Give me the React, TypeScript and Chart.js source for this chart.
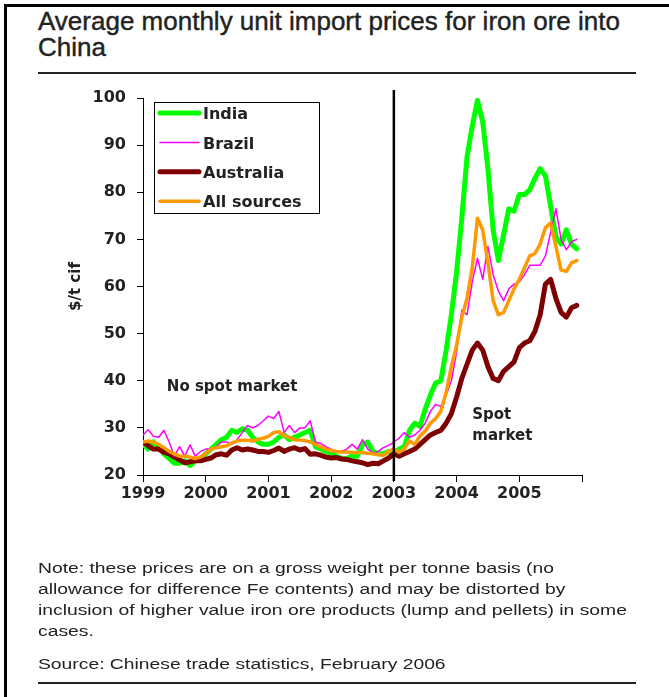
import React, { useEffect, useRef } from 'react';
import { Chart, registerables } from 'chart.js';

Chart.register(...registerables);

// ---------- text ----------
const titleLines = ['Average monthly unit import prices for iron ore into', 'China'];
const noteLines = [
  'Note: these prices are on a gross weight per tonne basis (no',
  'allowance for difference Fe contents) and may be distorted by',
  'inclusion of higher value iron ore products (lump and pellets) in some',
  'cases.',
];
const sourceText = 'Source: Chinese trade statistics, February 2006';
const yAxisTitle = '$/t cif';
const leftRegionLabel = 'No spot market';
const rightRegionLabel = ['Spot', 'market'];

// ---------- axes ----------
const startYear = 1999;
const endYear = 2006;
const yearLabels = [1999, 2000, 2001, 2002, 2003, 2004, 2005];
const yMin = 20;
const yMax = 100;
const yStep = 10;
const dividerYear = 2003;

// ---------- series (monthly, Jan 1999 - Dec 2005) ----------
const seriesNames = ['India', 'Brazil', 'Australia', 'All sources'];
const seriesColors = ['#00ff00', '#ff00ff', '#7f0000', '#ff9900'];

const india = [
  26.5, 25.5, 27, 26, 24.5, 23.5, 22.5, 22.5, 23, 22, 23, 23.5,
  24.5, 25.5, 26.5, 27.5, 28, 29.5, 29, 29.8, 29.5, 28, 27, 26.5,
  26.5, 27, 28, 28.5, 27.5, 28, 28.5, 29, 29.5, 26, 25.5, 25,
  24.5, 24, 23.5, 23.5, 24, 24, 26.5, 27, 25, 24.5, 24.5, 25,
  24.5, 25.5, 26, 29.5, 31, 30.3, 34, 37, 39.5, 40, 46.5, 54,
  63, 74.5, 87.5, 94, 99.5, 95, 85, 72, 65.5, 71, 76.5, 76,
  79.5, 79.5, 80.5, 83, 85, 83.5, 77, 70.5, 69, 72, 69, 68,
];

const brazil = [
  28.5, 29.6, 28.2, 28, 29.5, 27, 24, 26, 24, 26.4, 24, 25,
  25.5, 25.5, 26, 27, 27, 26.5, 27.5, 29, 30.5, 30, 30.5, 31.5,
  32.5, 32, 33.5, 29, 30.5, 29, 30, 30, 31.5, 27, 26.7, 26,
  25.5, 25, 25, 25.5, 26.5, 25.5, 27.5, 25.5, 24.7, 25, 25.8, 26.3,
  27, 27.8, 29, 28, 28.5, 29.5, 31, 33.5, 35, 34.5, 37, 40,
  46, 55, 54, 61, 66, 61.5, 68.5, 62.5, 59, 57, 59.5, 60.5,
  61, 62.5, 64.5, 64.5, 64.5, 66.5, 71.5, 76.5, 70, 67.8, 69.5, 70,
];

const australia = [
  27, 26.2, 25.5, 25.5, 24.8, 24.5, 23.8, 23.2, 22.6, 22.8, 23, 23,
  23.3, 23.6, 24.3, 24.5, 24.2, 25.3, 25.8, 25.3, 25.5, 25.3, 25, 25,
  24.8, 25.2, 25.7, 25, 25.5, 25.8, 25.3, 25.6, 24.4, 24.5, 24.2, 23.8,
  23.6, 23.7, 23.4, 23.3, 23, 22.8, 22.6, 22.2, 22.5, 22.4, 23, 23.6,
  24.5, 24, 24.5, 25, 25.5, 26.5, 27.5, 28.5, 29, 29.5, 31, 33,
  36.5, 40.5, 43.5, 46.5, 48, 46.5, 43, 40.5, 40, 42, 43, 44,
  47, 48, 48.5, 50.5, 54, 60.5, 61.5, 57.5, 54.5, 53.5, 55.5, 56,
];

const allSources = [
  27, 27.2, 27, 26.5, 25.8, 25, 24.5, 24, 24, 23.8, 23.5, 23.8,
  24.5, 25.5, 25.8, 26, 26.2, 26.8, 27.2, 27.4, 27.4, 27.2, 27.6, 27.8,
  28.2, 29, 29.2, 28.3, 28, 27.5, 27.4, 27.3, 27, 26.5, 26, 25.5,
  25.2, 25, 24.9, 24.9, 24.8, 24.8, 24.7, 24.6, 24.5, 24.3, 24.2, 25,
  25.5, 24.8, 25.5, 27.2, 26.5, 28.3, 29.3, 31, 32, 33.5, 37.5, 43,
  47.5, 53.5, 57.5, 64, 74.5, 72, 65, 57, 54, 54.5, 57, 59.5,
  61.5, 64, 66.5, 67, 69, 72.5, 73.5, 68.5, 63.5, 63.2, 65, 65.5,
];

const seriesValues = [india, brazil, australia, allSources];

const FONT = '"DejaVu Sans", Verdana, sans-serif';
const TEXT_FONT = '"Liberation Sans", Arial, sans-serif';
const INK = '#222';

const overlayPlugin = {
  id: 'overlay',
  afterDatasetsDraw(chart: any) {
    const { ctx, chartArea } = chart;
    const xs = chart.scales.x;
    const ys = chart.scales.y;
    ctx.save();

    // divider between regimes
    const dx = xs.getPixelForValue(dividerYear);
    ctx.strokeStyle = '#000';
    ctx.lineWidth = 2.5;
    ctx.beginPath();
    ctx.moveTo(dx, chartArea.top - 8);
    ctx.lineTo(dx, chartArea.bottom + 6);
    ctx.stroke();

    // region labels
    ctx.fillStyle = INK;
    ctx.font = `bold 15px ${FONT}`;
    ctx.textBaseline = 'middle';
    ctx.textAlign = 'left';
    ctx.fillText(leftRegionLabel, xs.getPixelForValue(1999.38), ys.getPixelForValue(38.7));
    ctx.fillText(rightRegionLabel[0], xs.getPixelForValue(2004.25), ys.getPixelForValue(32.7));
    ctx.fillText(rightRegionLabel[1], xs.getPixelForValue(2004.25), ys.getPixelForValue(28.3));

    // legend box
    const lx = chartArea.left + 11;
    const ly = chartArea.top + 4;
    const lw = 165;
    const lh = 111;
    ctx.fillStyle = '#fff';
    ctx.fillRect(lx, ly, lw, lh);
    ctx.strokeStyle = '#000';
    ctx.lineWidth = 1;
    ctx.strokeRect(lx + 0.5, ly + 0.5, lw, lh);
    chart.data.datasets.forEach((ds: any, i: number) => {
      const cy = ly + 11 + i * 29.4;
      ctx.strokeStyle = ds.borderColor;
      ctx.lineWidth = ds.borderWidth;
      ctx.lineCap = 'round';
      ctx.beginPath();
      ctx.moveTo(lx + 6, cy);
      ctx.lineTo(lx + 45, cy);
      ctx.stroke();
      ctx.fillStyle = INK;
      ctx.font = `bold 16px ${FONT}`;
      ctx.fillText(ds.label, lx + 49, cy + 2);
    });
    ctx.restore();
  },
};

export default function App() {
  const canvasRef = useRef<HTMLCanvasElement | null>(null);

  useEffect(() => {
    const canvas = canvasRef.current;
    if (!canvas) return;
    const widths = [5, 1.5, 5, 3.5];
    const orders = [4, 2, 3, 1];
    const chart = new Chart(canvas, {
      type: 'line',
      data: {
        datasets: seriesNames.map((name, si) => ({
          label: name,
          data: seriesValues[si].map((v, i) => ({ x: startYear + i / 12, y: v })),
          borderColor: seriesColors[si],
          backgroundColor: seriesColors[si],
          borderWidth: widths[si],
          order: orders[si],
          pointRadius: 0,
          tension: 0,
          fill: false,
          borderJoinStyle: 'round',
          borderCapStyle: 'round',
        })),
      },
      options: {
        animation: false,
        responsive: false,
        maintainAspectRatio: false,
        devicePixelRatio: 1,
        layout: { padding: { left: 0, top: 98, right: 87, bottom: 182 } },
        plugins: {
          legend: { display: false },
          tooltip: { enabled: false },
          title: { display: false },
        },
        scales: {
          x: {
            type: 'linear',
            min: startYear,
            max: endYear,
            afterFit: (s: any) => {
              s.height = 40;
            },
            ticks: {
              stepSize: 1,
              autoSkip: false,
              maxRotation: 0,
              padding: 2,
              color: INK,
              font: { family: FONT, size: 16, weight: 'bold' },
              callback: (v: any) => (yearLabels.includes(Number(v)) ? String(v) : ''),
            },
            grid: { display: true, drawOnChartArea: false, drawTicks: true, tickLength: 7, color: '#000', lineWidth: 1 },
            border: { display: true, color: '#000', width: 1 },
          },
          y: {
            min: yMin,
            max: yMax,
            afterFit: (s: any) => {
              s.width = 143;
            },
            ticks: {
              stepSize: yStep,
              padding: 11,
              color: INK,
              font: { family: FONT, size: 16, weight: 'bold' },
            },
            title: {
              display: true,
              text: yAxisTitle,
              color: INK,
              padding: { top: 67, bottom: 0 },
              font: { family: FONT, size: 15, weight: 'bold' },
            },
            grid: { display: true, drawOnChartArea: false, drawTicks: true, tickLength: 6, color: '#000', lineWidth: 1 },
            border: { display: true, color: '#000', width: 1 },
          },
        },
      } as any,
      plugins: [overlayPlugin],
    });
    return () => chart.destroy();
  }, []);

  return (
    <div style={{ position: 'absolute', left: 0, top: 0, width: 669, height: 697, background: '#fff', overflow: 'hidden' }}>
      <div style={{ position: 'absolute', left: 4, top: 4, width: 665, height: 2.5, background: '#000' }} />
      <div style={{ position: 'absolute', left: 4, top: 4, width: 2.5, height: 693, background: '#000' }} />
      <div
        style={{
          position: 'absolute',
          left: 38,
          top: 8.3,
          fontFamily: TEXT_FONT,
          fontSize: 25,
          lineHeight: '26px',
          color: INK,
          whiteSpace: 'nowrap',
          WebkitTextStroke: '0.4px #222',
          transform: 'scaleX(1.04)',
          transformOrigin: 'left top',
        }}
      >
        {titleLines.map((t, i) => (
          <div key={i}>{t}</div>
        ))}
      </div>
      <div style={{ position: 'absolute', left: 38, top: 72, width: 598, height: 2, background: INK }} />
      <canvas
        ref={canvasRef}
        width={669}
        height={697}
        style={{ position: 'absolute', left: 0, top: 0, width: 669, height: 697 }}
      />
      <div
        style={{
          position: 'absolute',
          left: 38,
          top: 556.5,
          fontFamily: TEXT_FONT,
          fontSize: 15.5,
          lineHeight: '21.3px',
          color: INK,
          whiteSpace: 'nowrap',
          transform: 'scaleX(1.245)',
          transformOrigin: 'left top',
        }}
      >
        {noteLines.map((t, i) => (
          <div key={i}>{t}</div>
        ))}
      </div>
      <div
        style={{
          position: 'absolute',
          left: 38,
          top: 653,
          fontFamily: TEXT_FONT,
          fontSize: 15.5,
          lineHeight: '21.3px',
          color: INK,
          whiteSpace: 'nowrap',
          transform: 'scaleX(1.245)',
          transformOrigin: 'left top',
        }}
      >
        {sourceText}
      </div>
      <div style={{ position: 'absolute', left: 38, top: 682, width: 598, height: 2, background: INK }} />
    </div>
  );
}
